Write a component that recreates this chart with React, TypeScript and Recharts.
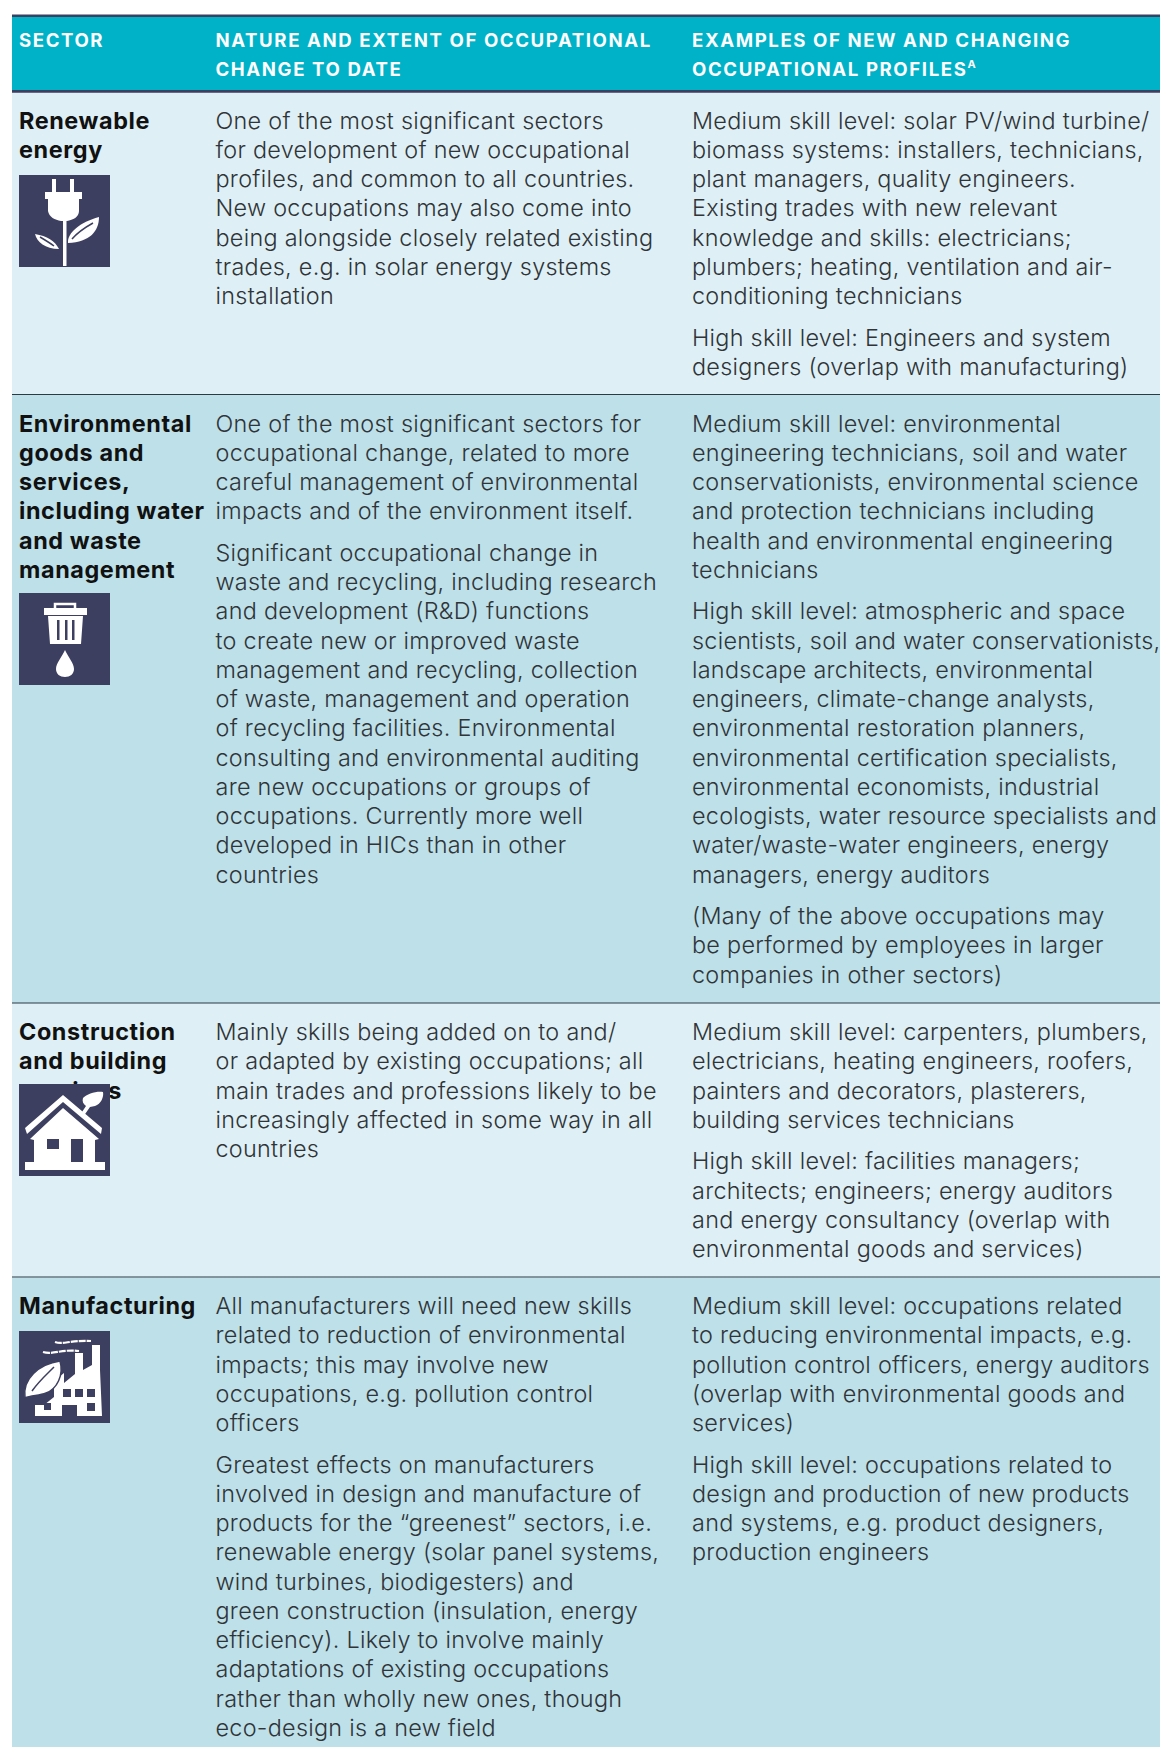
import React from "react";
import { ComposedChart, XAxis, YAxis, Scatter, ReferenceArea, ReferenceLine } from "recharts";

const W = 1160, H = 1747;
const FONT = "Inter, 'Open Sans', sans-serif";

// ---- table content ----
const headers = [
  ["SECTOR"],
  ["NATURE AND EXTENT OF OCCUPATIONAL", "CHANGE TO DATE"],
  ["EXAMPLES OF NEW AND CHANGING", "OCCUPATIONAL PROFILES^A"],
];
const sectors = [
  ["Renewable", "energy"],
  ["Environmental", "goods and", "services,", "including water", "and waste", "management"],
  ["Construction", "and building", "services"],
  ["Manufacturing"],
];
const nature = [
  [["One of the most significant sectors", "for development of new occupational", "profiles, and common to all countries.", "New occupations may also come into", "being alongside closely related existing", "trades, e.g. in solar energy systems", "installation"]],
  [["One of the most significant sectors for", "occupational change, related to more", "careful management of environmental", "impacts and of the environment itself."],
   ["Significant occupational change in", "waste and recycling, including research", "and development (R&D) functions", "to create new or improved waste", "management and recycling, collection", "of waste, management and operation", "of recycling facilities. Environmental", "consulting and environmental auditing", "are new occupations or groups of", "occupations. Currently more well", "developed in HICs than in other", "countries"]],
  [["Mainly skills being added on to and/", "or adapted by existing occupations; all", "main trades and professions likely to be", "increasingly affected in some way in all", "countries"]],
  [["All manufacturers will need new skills", "related to reduction of environmental", "impacts; this may involve new", "occupations, e.g. pollution control", "officers"],
   ["Greatest effects on manufacturers", "involved in design and manufacture of", "products for the \u201Cgreenest\u201D sectors, i.e.", "renewable energy (solar panel systems,", "wind turbines, biodigesters) and", "green construction (insulation, energy", "efficiency). Likely to involve mainly", "adaptations of existing occupations", "rather than wholly new ones, though", "eco-design is a new field"]],
];
const examples = [
  [["Medium skill level: solar PV/wind turbine/", "biomass systems: installers, technicians,", "plant managers, quality engineers.", "Existing trades with new relevant", "knowledge and skills: electricians;", "plumbers; heating, ventilation and air-", "conditioning technicians"],
   ["High skill level: Engineers and system", "designers (overlap with manufacturing)"]],
  [["Medium skill level: environmental", "engineering technicians, soil and water", "conservationists, environmental science", "and protection technicians including", "health and environmental engineering", "technicians"],
   ["High skill level: atmospheric and space", "scientists, soil and water conservationists,", "landscape architects, environmental", "engineers, climate-change analysts,", "environmental restoration planners,", "environmental certification specialists,", "environmental economists, industrial", "ecologists, water resource specialists and", "water/waste-water engineers, energy", "managers, energy auditors"],
   ["(Many of the above occupations may", "be performed by employees in larger", "companies in other sectors)"]],
  [["Medium skill level: carpenters, plumbers,", "electricians, heating engineers, roofers,", "painters and decorators, plasterers,", "building services technicians"],
   ["High skill level: facilities managers;", "architects; engineers; energy auditors", "and energy consultancy (overlap with", "environmental goods and services)"]],
  [["Medium skill level: occupations related", "to reducing environmental impacts, e.g.", "pollution control officers, energy auditors", "(overlap with environmental goods and", "services)"],
   ["High skill level: occupations related to", "design and production of new products", "and systems, e.g. product designers,", "production engineers"]],
];

// ---- layout on the chart's pixel scale ----
const rowTops = [92, 395, 1003.5, 1277.5];
const rowEnds = [395, 1003.5, 1277.5, H];
const rowFills = ["#DEF0F5", "#BDE0E9", "#DEF0F5", "#BDE0E9"];
const ruleRows = [394.5, 1003, 1277];
const columnX = [19, 215.5, 692];
const iconNames = ["plug", "trash", "house", "factory"];
const iconTops = [175, 593, 1084, 1331];
const LINE = 29.27, GAP = 12.2, FIRST = 36.5;

type Pt = { x: number; y: number; label: string; kind: string };

function flow(paras: string[][], x: number, top: number, kind: string): Pt[] {
  const out: Pt[] = [];
  let y = top + FIRST;
  paras.forEach((p) => {
    p.forEach((label) => {
      out.push({ x, y, label, kind });
      y += LINE;
    });
    y += GAP;
  });
  return out;
}

const textPoints: Pt[] = [
  ...headers.flatMap((h, c) => h.map((label, i) => ({ x: columnX[c], y: 46.5 + i * 29.25, label, kind: "head" }))),
  ...rowTops.flatMap((top, r) => [
    ...flow([sectors[r]], columnX[0], top, "sector"),
    ...flow(nature[r], columnX[1], top, "body"),
    ...flow(examples[r], columnX[2], top, "body"),
  ]),
];
const iconPoints = iconNames.map((name, i) => ({ x: columnX[0], y: iconTops[i], name }));

const STYLE: Record<string, any> = {
  head: { fontSize: 18.6, fontWeight: 700, fill: "#FFFFFF", letterSpacing: 1.6 },
  sector: { fontSize: 23.4, fontWeight: 650, fill: "#111111", letterSpacing: 0.6 },
  body: { fontSize: 23.4, fontWeight: 300, fill: "#303438", letterSpacing: 0.28 },
};

const TextMark = (props: any) => {
  const { cx, cy, payload } = props;
  const s = STYLE[payload.kind];
  const [main, sup] = payload.label.split("^");
  return (
    <text x={cx} y={cy} fontFamily={FONT} {...s}>
      {main}
      {sup ? <tspan dy={-8} fontSize={11}>{sup}</tspan> : null}
    </text>
  );
};

const IconArt: Record<string, React.ReactNode> = {
  plug: (
    <g>
      <path fill="#fff" d="M33 4h4v13h-4zM51 4h4v13h-4zM26 17h37v7h-3v12c0 6-6 9-12 10h-6c-6-1-12-4-13-10V24h-3z" />
      <path fill="#fff" d="M44 46h3.5v45H44z" />
      <path fill="#fff" d="M49 68c-1-10 12-21 31-26 0 14-9 25-31 26z" />
      <path fill="none" stroke="#3D3F60" strokeWidth="1.5" d="M53 64c6-7 12-11 21-16" />
      <path fill="#fff" d="M40 74c-4-8-12-13-24-15 2 8 10 15 24 15z" />
      <path fill="none" stroke="#3D3F60" strokeWidth="1.5" d="M21 62c5 3 10 6 14 9" />
    </g>
  ),
  trash: (
    <g>
      <path fill="none" stroke="#fff" strokeWidth="2.5" d="M36 15v-4h20v4" />
      <path fill="#fff" d="M25 15h43v7H25zM29 23h35l-2 28H31z" />
      <path fill="#3D3F60" d="M38 27h2.5v20H38zM46 27h2.5v20H46zM53 27h2.5v20H53z" />
      <path fill="#fff" d="M46 57c3 7 9 13 9 19 0 5-4 8-9 8s-9-3-9-8c0-6 6-12 9-19z" />
    </g>
  ),
  house: (
    <g>
      <path fill="#fff" d="M44 11 83 44l-1 6-38-32L8 50l-2-6zM6 78h80v8H6z" />
      <path fill="#fff" d="M44 24 80 55l-4 1v22H15V56l-4-1z" />
      <path fill="#3D3F60" d="M28 55h12v10H28zM52 55h12v23H52z" />
      <path fill="#fff" d="M64 14c4-4 13-7 20-6 1 5-2 12-8 14l-5 1-7 10-3-2 6-9c-3-2-4-5-3-8z" />
    </g>
  ),
  factory: (
    <g>
      <path fill="#fff" d="M16 85V74h9l10-8V50l10-8v10l11-9V22h8v17l9-5V14h8v25l2 46H58V74H43v11z" />
      <path fill="#3D3F60" d="M44 58h8v8h-8zM56 58h8v8h-8zM68 58h8v8h-8zM68 72h8v8h-8zM25 72h7v7h-7z" />
      <path fill="#fff" stroke="#3D3F60" strokeWidth="1.5" d="M6 67C3 48 20 33 41 30c4 14-3 28-14 32-7 3-15 2-21 5z" />
      <path fill="none" stroke="#3D3F60" strokeWidth="1.5" d="M13 60c7-10 14-16 22-24" />
      <path fill="none" stroke="#fff" strokeWidth="2.2" strokeDasharray="7 1" d="M36 11c8 3 14-2 36-1M24 21c10 3 18-3 36-1" />
    </g>
  ),
};

const IconMark = (props: any) => {
  const { cx, cy, payload } = props;
  return (
    <g transform={`translate(${cx},${cy})`}>
      <rect width={91} height={92} fill="#3D3F60" />
      {IconArt[payload.name]}
    </g>
  );
};

export default function App() {
  return (
    <div style={{ position: "absolute", left: 0, top: 0, width: W, height: H, background: "#fff" }}>
      <ComposedChart width={W} height={H} margin={{ top: 0, right: 0, bottom: 0, left: 0 }}>
        <XAxis type="number" dataKey="x" domain={[0, W]} hide allowDataOverflow />
        <YAxis type="number" dataKey="y" domain={[0, H]} reversed hide allowDataOverflow />
        <ReferenceArea x1={12} x2={W} y1={16} y2={91} fill="#00B2C8" fillOpacity={1} stroke="none" />
        {rowTops.map((t, i) => (
          <ReferenceArea key={i} x1={12} x2={W} y1={t} y2={rowEnds[i]} fill={rowFills[i]} fillOpacity={1} stroke="none" />
        ))}
        <ReferenceLine segment={[{ x: 12, y: 15.7 }, { x: W, y: 15.7 }]} stroke="#3D3F60" strokeWidth={2.6} />
        <ReferenceLine segment={[{ x: 12, y: 91.4 }, { x: W, y: 91.4 }]} stroke="#3D3F60" strokeWidth={2.6} />
        {ruleRows.map((y) => (
          <ReferenceLine key={y} segment={[{ x: 12, y }, { x: W, y }]} stroke="#2B3A44" strokeWidth={1} />
        ))}
        <Scatter data={textPoints} isAnimationActive={false} shape={TextMark} />
        <Scatter data={iconPoints} isAnimationActive={false} shape={IconMark} />
      </ComposedChart>
    </div>
  );
}
